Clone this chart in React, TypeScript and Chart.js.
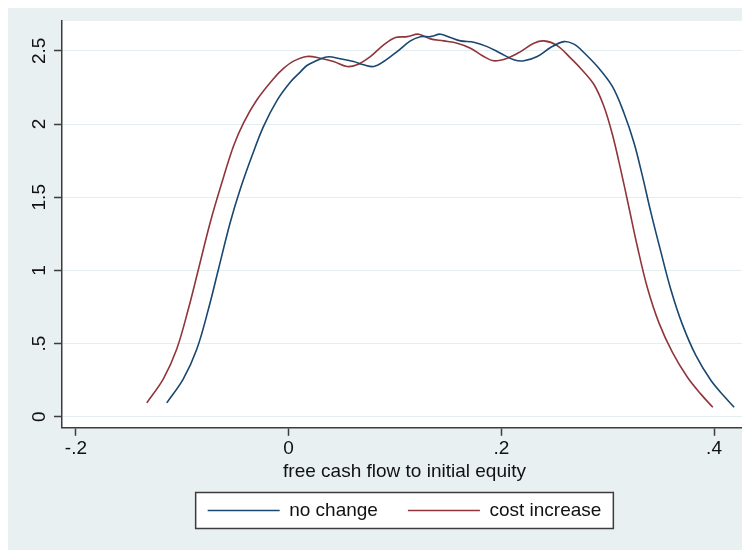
import React, { useEffect, useRef } from 'react';
import { Chart, registerables } from 'chart.js';

Chart.register(...registerables);

const seriesNames = ['no change', 'cost increase'];
const xTitle = 'free cash flow to initial equity';

const noChangeX = [
  -0.1146, -0.099, -0.0863, -0.0754, -0.066, -0.055, -0.0456, -0.0346, -0.0236, -0.011,
  0.0015, 0.0109, 0.0172, 0.0298, 0.0376, 0.0486, 0.0611, 0.0705, 0.0799, 0.0894,
  0.102, 0.1145, 0.1239, 0.1333, 0.1427, 0.1521, 0.1616, 0.1741, 0.1867, 0.1992,
  0.2118, 0.2212, 0.2338, 0.2463, 0.2589, 0.2683, 0.2746, 0.2903, 0.3044, 0.3153,
  0.3248, 0.3327, 0.3405, 0.3499, 0.3593, 0.3703, 0.3829, 0.397, 0.4095, 0.4189,
];
const noChangeY = [
  0.095, 0.259, 0.463, 0.736, 1.008, 1.326, 1.553, 1.78, 1.984, 2.16,
  2.285, 2.355, 2.4, 2.445, 2.46, 2.446, 2.427, 2.405, 2.393, 2.427,
  2.495, 2.568, 2.597, 2.597, 2.614, 2.591, 2.568, 2.559, 2.529, 2.484,
  2.439, 2.432, 2.461, 2.523, 2.563, 2.546, 2.51, 2.393, 2.257, 2.076,
  1.871, 1.644, 1.4, 1.13, 0.872, 0.63, 0.42, 0.25, 0.14, 0.065,
];

const costIncreaseX = [
  -0.1334, -0.1178, -0.1052, -0.0943, -0.0848, -0.0738, -0.0628, -0.0519, -0.0425, -0.0298,
  -0.0142, -0.0048, 0.0046, 0.0172, 0.0298, 0.0423, 0.0549, 0.0643, 0.0768, 0.0894,
  0.1004, 0.1114, 0.1223, 0.1333, 0.1459, 0.1585, 0.171, 0.1835, 0.1929, 0.2056,
  0.2181, 0.2306, 0.24, 0.2526, 0.2652, 0.2746, 0.2871, 0.2965, 0.3044, 0.3122,
  0.32, 0.328, 0.3374, 0.3483, 0.3609, 0.375, 0.3876, 0.3989,
];
const costIncreaseY = [
  0.095, 0.259, 0.463, 0.736, 1.008, 1.326, 1.599, 1.848, 2.007, 2.166,
  2.31, 2.38, 2.43, 2.462, 2.45, 2.427, 2.393, 2.405, 2.461, 2.541,
  2.591, 2.597, 2.614, 2.582, 2.568, 2.552, 2.518, 2.461, 2.432, 2.45,
  2.495, 2.552, 2.568, 2.536, 2.45, 2.38, 2.27, 2.12, 1.93, 1.69,
  1.43, 1.16, 0.88, 0.64, 0.44, 0.27, 0.155, 0.065,
];

const xTickValues = [-0.2, 0, 0.2, 0.4];
const xTickLabels = ['-.2', '0', '.2', '.4'];
const yTickValues = [0, 0.5, 1, 1.5, 2, 2.5];
const yTickLabels = ['0', '.5', '1', '1.5', '2', '2.5'];

const BG = '#e8f0f2';
const AXIS = '#3c3c3c';
const GRID = '#e4edf0';
const TEXT = '#111111';
const BLUE = '#1a476f';
const RED = '#90353b';
const FONT = '"Liberation Sans", Arial, sans-serif';
const FS = 19;

const stataPlugin = {
  id: 'stataLook',
  beforeDraw(chart: any) {
    const { ctx, width, height, chartArea } = chart;
    ctx.save();
    ctx.fillStyle = BG;
    ctx.fillRect(0, 0, width, height);
    ctx.fillStyle = '#ffffff';
    ctx.fillRect(chartArea.left, chartArea.top, chartArea.right - chartArea.left, chartArea.bottom - chartArea.top);
    const lg = chart.legend;
    if (lg && lg.legendHitBoxes && lg.legendHitBoxes.length) {
      const hb = lg.legendHitBoxes;
      const first = hb[0];
      const last = hb[hb.length - 1];
      const left = first.left - 12;
      const right = last.left + last.width + 12;
      const cy = first.top + first.height / 2;
      const top = cy - 18;
      const h = 36;
      ctx.fillStyle = '#ffffff';
      ctx.fillRect(left, top, right - left, h);
      ctx.strokeStyle = AXIS;
      ctx.lineWidth = 1.5;
      ctx.strokeRect(left, top, right - left, h);
    }
    ctx.restore();
  },
  afterDraw(chart: any) {
    const { ctx } = chart;
    const ys = chart.scales.y;
    ctx.save();
    ctx.fillStyle = TEXT;
    ctx.font = `${FS}px ${FONT}`;
    ctx.textAlign = 'center';
    ctx.textBaseline = 'alphabetic';
    yTickValues.forEach((v, i) => {
      const py = ys.getPixelForValue(v);
      ctx.save();
      ctx.translate(37, py);
      ctx.rotate(-Math.PI / 2);
      ctx.fillText(yTickLabels[i], 0, 0);
      ctx.restore();
    });
    ctx.restore();
  },
};

export default function App() {
  const ref = useRef<HTMLCanvasElement | null>(null);

  useEffect(() => {
    if (!ref.current) return;
    const toPts = (xs: number[], ys: number[]) => xs.map((x, i) => ({ x, y: ys[i] }));
    const chart = new Chart(ref.current, {
      type: 'scatter',
      data: {
        datasets: [
          {
            label: seriesNames[0],
            data: toPts(noChangeX, noChangeY),
            showLine: true,
            borderColor: BLUE,
            backgroundColor: BLUE,
            borderWidth: 1.6,
            pointRadius: 0,
            tension: 0.35,
          },
          {
            label: seriesNames[1],
            data: toPts(costIncreaseX, costIncreaseY),
            showLine: true,
            borderColor: RED,
            backgroundColor: RED,
            borderWidth: 1.6,
            pointRadius: 0,
            tension: 0.35,
          },
        ],
      },
      options: {
        responsive: false,
        animation: false,
        maintainAspectRatio: false,
        layout: { padding: { left: 0, top: 17, right: 3, bottom: 20 } },
        plugins: {
          tooltip: { enabled: false },
          legend: {
            position: 'bottom',
            fullSize: false,
            labels: {
              boxWidth: 72,
              boxHeight: 1.5,
              padding: 30,
              color: TEXT,
              font: { size: FS, family: FONT },
              generateLabels: (c: any) =>
                c.data.datasets.map((d: any, i: number) => ({
                  text: d.label,
                  fillStyle: d.borderColor,
                  strokeStyle: d.borderColor,
                  lineWidth: 0,
                  hidden: false,
                  datasetIndex: i,
                  fontColor: TEXT,
                })),
            },
          },
        },
        scales: {
          x: {
            type: 'linear',
            min: -0.2131,
            max: 0.431,
            afterBuildTicks: (s: any) => {
              s.ticks = xTickValues.map((v) => ({ value: v }));
            },
            ticks: {
              color: TEXT,
              font: { size: FS, family: FONT },
              padding: 2,
              maxRotation: 0,
              autoSkip: false,
              callback: (v: any) => {
                const i = xTickValues.findIndex((t) => Math.abs(t - Number(v)) < 1e-9);
                return i >= 0 ? xTickLabels[i] : '';
              },
            },
            grid: {
              drawOnChartArea: false,
              drawTicks: true,
              tickLength: 8,
              tickColor: AXIS,
              tickWidth: 1.5,
            },
            border: { color: AXIS, width: 1.5 },
            title: {
              display: true,
              text: xTitle,
              color: TEXT,
              font: { size: FS, family: FONT },
              padding: { top: -2, bottom: -12.4 },
            },
          },
          y: {
            type: 'linear',
            min: -0.075,
            max: 2.704,
            afterBuildTicks: (s: any) => {
              s.ticks = yTickValues.map((v) => ({ value: v }));
            },
            afterFit: (s: any) => {
              s.width = 54;
            },
            ticks: { display: false },
            grid: {
              color: GRID,
              lineWidth: 1,
              drawTicks: true,
              tickLength: 8,
              tickColor: AXIS,
              tickWidth: 1.5,
            },
            border: { color: AXIS, width: 1.5 },
          },
        },
      },
      plugins: [stataPlugin],
    } as any);
    return () => chart.destroy();
  }, []);

  return (
    <div style={{ position: 'relative', width: 742, height: 546, marginTop: -4 }}>
      <canvas ref={ref} width={742} height={546} style={{ display: 'block', width: 742, height: 546 }} />
    </div>
  );
}
